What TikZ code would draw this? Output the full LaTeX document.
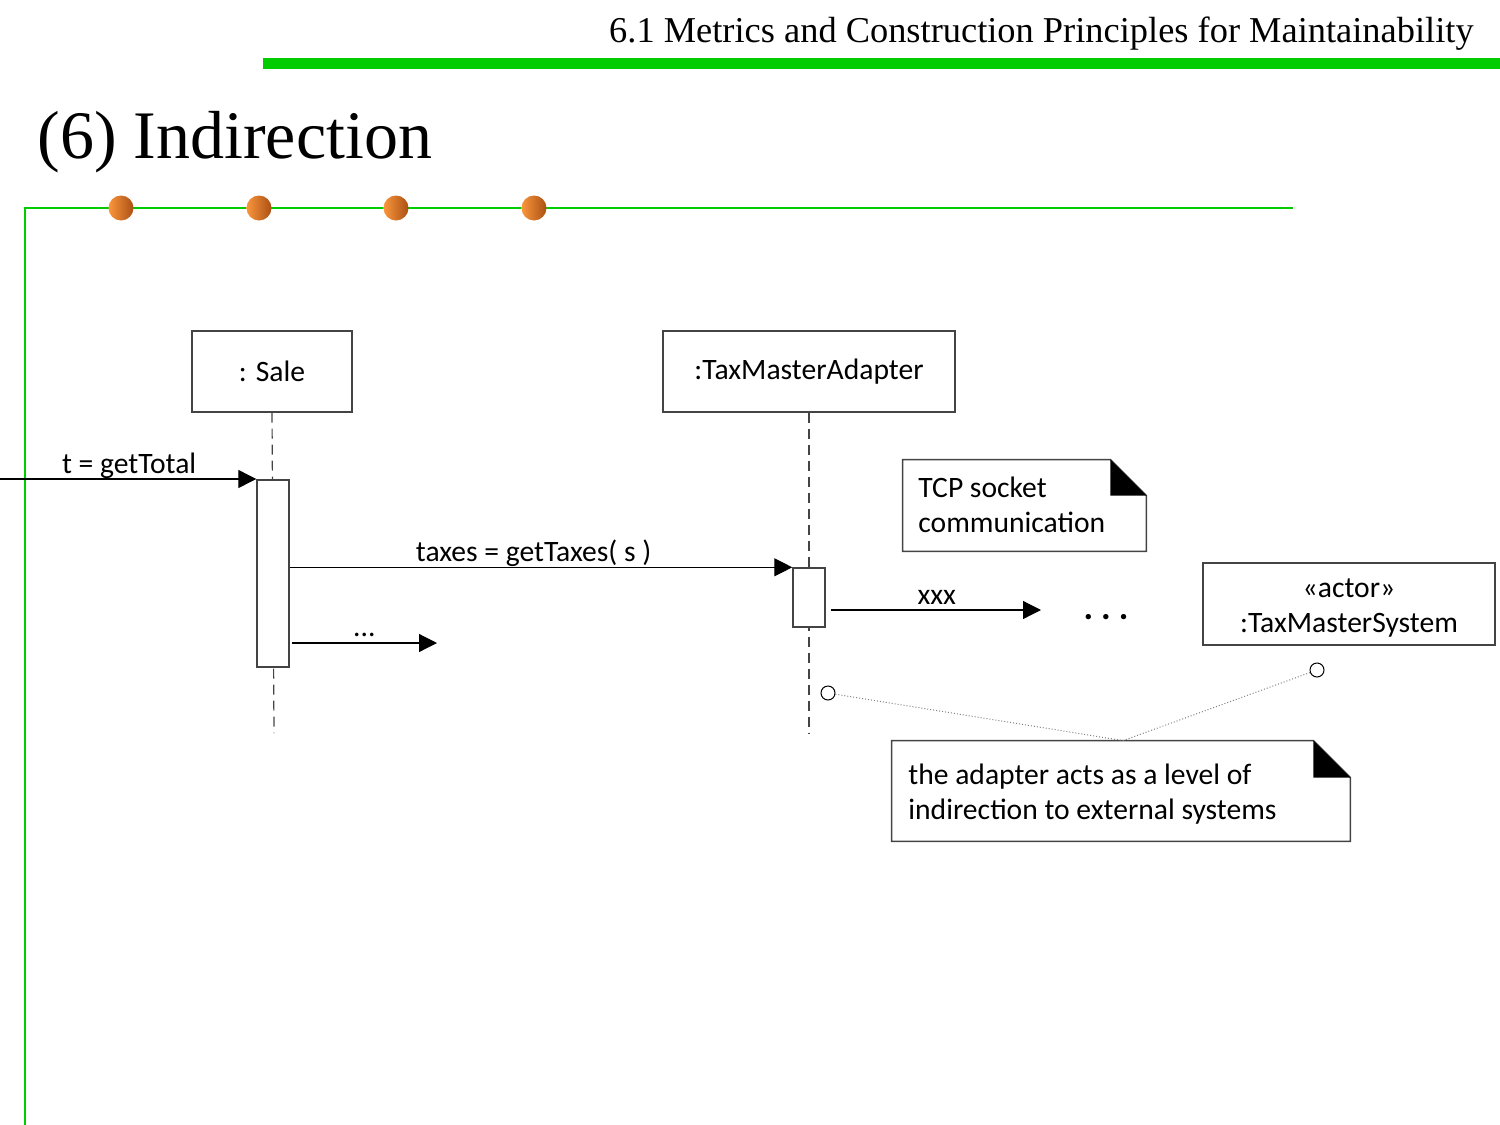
\documentclass[tikz,border=0pt]{standalone}
\usepackage{fontspec}
\setmainfont{Carlito}
\newfontfamily\hdr{Liberation Serif}
\usetikzlibrary{arrows.meta,shapes.geometric}
\definecolor{slidegreen}{RGB}{0,204,0}
\definecolor{boxgray}{RGB}{68,68,68}
\definecolor{orangeL}{RGB}{250,150,60}
\definecolor{orangeD}{RGB}{170,80,20}
\tikzset{
  objbox/.style={draw=boxgray, line width=0.7pt, fill=white, inner sep=0pt,
     font=\fontsize{14.8pt}{18pt}\selectfont, align=center},
  actbox/.style={draw=boxgray, line width=0.7pt, fill=white, inner sep=0pt},
  lifeline/.style={draw=boxgray, line width=0.6pt, dash pattern=on 5pt off 3pt},
  msg/.style={draw=black, line width=0.6pt, -{Triangle[length=9pt,width=9pt]}},
  lbl/.style={font=\fontsize{14.8pt}{17pt}\selectfont, inner sep=0pt},
  notetext/.style={font=\fontsize{14.8pt}{17.5pt}\selectfont, inner sep=0pt, align=left},
  noteline/.style={draw=boxgray, line width=0.7pt},
  anchorcirc/.style={circle, draw=black, line width=0.5pt, fill=white, inner sep=0pt},
  tether/.style={draw=gray, line width=0.5pt, densely dotted},
  bullet/.style={circle, inner sep=0pt, minimum size=12.5pt, left color=orangeL, right color=orangeD},
}
\begin{document}
\begin{tikzpicture}[x=0.5pt,y=-0.5pt]
\useasboundingbox (0,0) rectangle (1500,1125);
% slide frame
\fill[slidegreen] (263,58) rectangle (1500,69);
\node[anchor=base east, inner sep=0pt, font=\hdr\fontsize{18.2pt}{20pt}\selectfont] (header) at (1474,42) {6.1 Metrics and Construction Principles for Maintainability};
\node[anchor=base west, inner sep=0pt, font=\hdr\fontsize{34pt}{38pt}\selectfont] (title) at (37,158) {(6) Indirection};
\draw[slidegreen, line width=1pt] (25,1125) -- (25,208) -- (1293,208);
\foreach \i/\x in {1/121,2/259,3/396,4/534} \node[bullet] (b\i) at (\x,208) {};

% objects
\node[objbox, minimum width=80pt, minimum height=40.5pt] (sale) at (272,371.5) {: Sale};
\node[objbox, minimum width=146pt, minimum height=40.5pt] (adapter) at (809,371.5) {:TaxMasterAdapter};
\node[objbox, minimum width=146pt, minimum height=41pt] (actor) at (1349,604) {};
\node[notetext, align=center, anchor=base] (actorText) at (1349,632) {«actor»\\:TaxMasterSystem};

% lifelines
\coordinate (saleEnd) at (274,733);
\coordinate (adEnd) at (809,733);
\draw[lifeline] (sale.south) -- (saleEnd);
\draw[lifeline] (adapter.south) -- (adEnd);

% activations
\node[actbox, minimum width=16pt, minimum height=93.5pt] (saleAct) at (273,573.5) {};
\node[actbox, minimum width=16pt, minimum height=29.5pt] (adAct) at (809,597.5) {};

% messages
\coordinate (gtStart) at (0,479);
\draw[msg] (gtStart) -- (gtStart -| saleAct.west) node[lbl, pos=0.24, anchor=base west, yshift=3pt] (gtLbl) {t = getTotal};
\draw[msg] (saleAct.east |- adAct.north) -- (adAct.north west) node[lbl, pos=0.25, anchor=base west, yshift=3pt] (taxLbl) {taxes = getTaxes( s )};
\coordinate (dotsEnd) at (437,643);
\draw[msg] ([xshift=1pt]saleAct.east |- dotsEnd) -- (dotsEnd) node[lbl, midway, anchor=base, yshift=3.5pt] (dotsLbl) {...};
\coordinate (xxxEnd) at (1041,610);
\draw[msg] ([xshift=2.5pt]adAct.east |- xxxEnd) -- (xxxEnd) node[lbl, pos=0.41, anchor=base west, yshift=3pt] (xxxLbl) {xxx};
\node[inner sep=0pt, font=\bfseries\fontsize{18pt}{20pt}\selectfont] (ellip) at (1106,617) {.\hspace{4pt}.\hspace{4pt}.};

% TCP note
\node[minimum width=121.5pt, minimum height=45.5pt, inner sep=0pt] (tcp) at (1024.5,505.5) {};
\node[notetext, anchor=base west] (tcpText) at (918,532) {TCP socket\\communication};
\draw[noteline] (tcp.north west) -- ([xshift=-18pt]tcp.north east) -- ([yshift=-18pt]tcp.north east) -- (tcp.south east) -- (tcp.south west) -- cycle;
\fill[black] ([xshift=-18pt]tcp.north east) -- ([xshift=-18pt,yshift=-18pt]tcp.north east) -- ([yshift=-18pt]tcp.north east) -- cycle;

% bottom note
\node[minimum width=229pt, minimum height=50pt, inner sep=0pt] (note) at (1121,791) {};
\node[notetext, anchor=base west] (noteText) at (908,819) {the adapter acts as a level of\\indirection to external systems};
\draw[noteline] (note.north west) -- ([xshift=-18.5pt]note.north east) -- ([yshift=-18.5pt]note.north east) -- (note.south east) -- (note.south west) -- cycle;
\fill[black] ([xshift=-18.5pt]note.north east) -- ([xshift=-18.5pt,yshift=-18.5pt]note.north east) -- ([yshift=-18.5pt]note.north east) -- cycle;

% anchors of the note
\node[anchorcirc, minimum size=7pt] (c1) at (828,693) {};
\node[anchorcirc, minimum size=7pt] (c2) at (1317,670) {};
\draw[tether] (c1) -- ([xshift=1pt]note.north);
\draw[tether] (c2) -- ([xshift=1pt]note.north);
\end{tikzpicture}
\end{document}
